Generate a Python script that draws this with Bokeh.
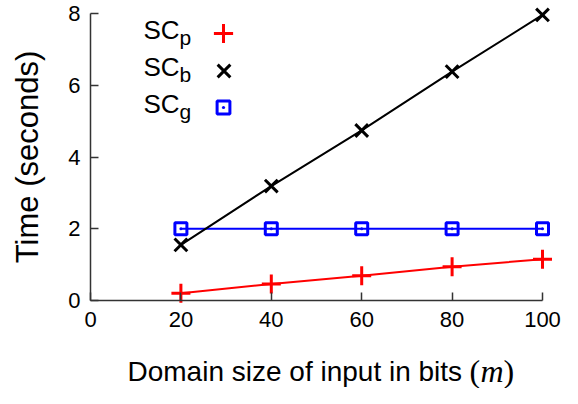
from bokeh.plotting import figure
from bokeh.models import Label, Legend, LegendItem, FixedTicker, Range1d
from bokeh.core.properties import value
from bokeh.embed import file_html
from bokeh.resources import INLINE

# ---- data ----
m_bits = [20, 40, 60, 80, 100]
sc_p = [0.20, 0.46, 0.69, 0.94, 1.15]
sc_b = [1.55, 3.19, 4.74, 6.38, 7.96]
sc_g = [2.0, 2.0, 2.0, 2.0, 2.0]
series_subs = ["p", "b", "g"]
x_ticks = [0, 20, 40, 60, 80, 100]
y_ticks = [0, 2, 4, 6, 8]

W, H = 562, 388
# pixel layout of the axes inside the canvas
X0_PX, X100_PX = 90.0, 542.0
Y8_PX, Y0_PX = 13.0, 300.0
sx = (X100_PX - X0_PX) / 100.0
sy = (Y0_PX - Y8_PX) / 8.0

p = figure(width=W, height=H, output_backend="svg", toolbar_location=None,
           x_range=Range1d(-X0_PX / sx, 100 + (W - X100_PX) / sx),
           y_range=Range1d(-(H - Y0_PX) / sy, 8 + Y8_PX / sy),
           min_border_left=0, min_border_right=0, min_border_top=0,
           min_border_bottom=0)
p.outline_line_color = None
p.grid.visible = False
p.background_fill_color = "white"
p.border_fill_color = "white"

for ax in (p.xaxis[0], p.yaxis[0]):
    ax.axis_line_width = 1.5
    ax.axis_line_color = "#333333"
    ax.major_tick_line_color = "#333333"
    ax.major_tick_line_width = 1.5
    ax.major_tick_in = 8
    ax.major_tick_out = 0
    ax.minor_tick_line_color = None
    ax.major_label_text_font = "Liberation Sans"
    ax.major_label_text_font_size = "22px"
    ax.major_label_text_color = "black"
    ax.fixed_location = 0

p.xaxis.ticker = FixedTicker(ticks=x_ticks)
p.yaxis.ticker = FixedTicker(ticks=y_ticks)
p.xaxis.bounds = (0, 100)
p.yaxis.bounds = (0, 8)
p.xaxis.major_label_standoff = 11
p.yaxis.major_label_standoff = 10

p.yaxis.axis_label = "Time (seconds)"
p.yaxis.axis_label_text_font = "Liberation Sans"
p.yaxis.axis_label_text_font_size = "31px"
p.yaxis.axis_label_text_font_style = "normal"
p.yaxis.axis_label_text_color = "black"
p.yaxis.axis_label_standoff = 20

# series
p.line(m_bits, sc_g, line_color="blue", line_width=2)
g_pts = p.scatter(m_bits, sc_g, marker="square_dot", size=12, line_color="blue",
                  line_width=3, fill_color=None)
p.line(m_bits, sc_b, line_color="black", line_width=2)
b_pts = p.scatter(m_bits, sc_b, marker="x", size=18, line_color="black", line_width=3)
p.line(m_bits, sc_p, line_color="red", line_width=2)
p_pts = p.scatter(m_bits, sc_p, marker="cross", size=19, line_color="red", line_width=3)

# legend keys: one legend per series so each key keeps its own size
key_cx = 223.0
key_cy = [H - 33.0, H - 70.0, H - 107.0]
key_box = [47.5, 45.0, 32.5]
for rend, cy, g in zip([p_pts, b_pts, g_pts], key_cy, key_box):
    lg = Legend(items=[LegendItem(label=value(""), renderers=[rend])],
                location=(key_cx - g / 2, cy - g / 2), glyph_width=int(round(g)),
                glyph_height=int(round(g)), label_height=10, label_width=0,
                spacing=0, padding=0, margin=0, label_standoff=0,
                border_line_color=None, background_fill_alpha=0)
    p.add_layout(lg)

for i, sub in enumerate(series_subs):
    p.add_layout(Label(x=143, y=H - 14 - 37 * i, x_units="screen", y_units="screen",
                       text="SC", text_font="Liberation Sans", text_font_size="26px",
                       text_baseline="top", text_color="black"))
    p.add_layout(Label(x=179, y=H - 25 - 37 * i, x_units="screen", y_units="screen",
                       text=sub, text_font="Liberation Sans", text_font_size="21px",
                       text_baseline="top", text_color="black"))

# x-axis title built from pieces (sans text + serif italic m)
x0 = 127
p.add_layout(Label(x=x0, y=H - 355.7, x_units="screen", y_units="screen",
                   text="Domain size of input in bits", text_font="Liberation Sans",
                   text_font_size="28px", text_baseline="top", text_color="black"))
for dx, txt, style in [(342, "(", "normal"), (353, "m", "italic"), (376, ")", "normal")]:
    p.add_layout(Label(x=x0 + dx, y=H - 352.5, x_units="screen", y_units="screen",
                       text=txt, text_font="Liberation Serif", text_font_style=style,
                       text_font_size="32px", text_baseline="top", text_color="black"))

open("out.html", "w").write(file_html(p, INLINE))
